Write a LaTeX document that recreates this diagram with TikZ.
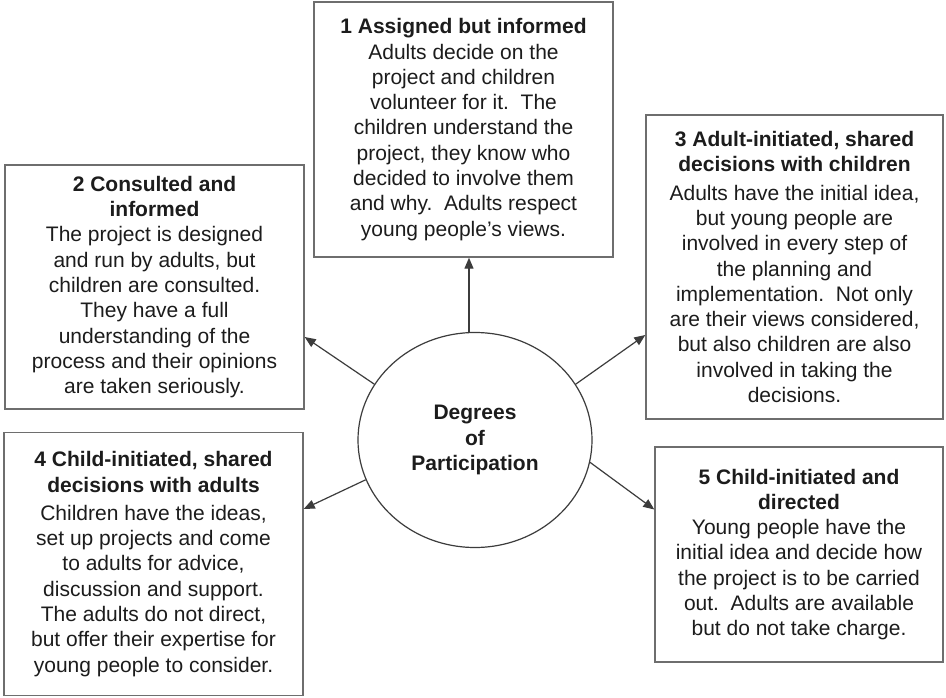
\documentclass[tikz,border=0pt]{standalone}
\usepackage{fontspec}
\setmainfont{Liberation Sans}
\usepackage{xcolor}
\usepackage{tikz}
\usetikzlibrary{positioning, shapes.geometric, arrows.meta}

\definecolor{ink}{HTML}{1C1C1C}
\definecolor{edge}{HTML}{6E6E6E}
\definecolor{wire}{HTML}{3C3C3C}

\begin{document}
\begin{tikzpicture}[x=1pt,y=-1pt]
	\tikzstyle{box}=[draw=edge,line width=1.4pt,fill=white,align=center,inner sep=0pt,text=ink,font=\fontsize{21}{25.3}\selectfont]
	\tikzstyle{arr}=[draw=wire,line width=1.2pt,-{Triangle[length=11pt,width=9pt]}]
	\useasboundingbox[fill=white] (0,0) rectangle (946,698);
	\node[box,minimum width=299pt,minimum height=255pt](b1) at (463.5,129.5) {\textbf{1 Assigned but informed}\\Adults decide on the\\project and children\\volunteer for it.\ \ The\\children understand the\\project, they know who\\decided to involve them\\and why.\ \ Adults respect\\young people's views.};
	\node[box,minimum width=299pt,minimum height=244pt](b2) at (154.5,287) {\textbf{2 Consulted and}\\\textbf{informed}\\The project is designed\\and run by adults, but\\children are consulted.\\They have a full\\understanding of the\\process and their opinions\\are taken seriously.};
	\node[box,minimum width=297pt,minimum height=304pt](b3) at (794.5,267) {\textbf{3 Adult-initiated, shared}\\\textbf{decisions with children}\\[3pt]Adults have the initial idea,\\but young people are\\involved in every step of\\the planning and\\implementation.\ \ Not only\\are their views considered,\\but also children are also\\involved in taking the\\decisions.};
	\node[box,minimum width=299pt,minimum height=263pt](b4) at (153.5,564) {\textbf{4 Child-initiated, shared}\\\textbf{decisions with adults}\\[3pt]Children have the ideas,\\set up projects and come\\to adults for advice,\\discussion and support.\\The adults do not direct,\\but offer their expertise for\\young people to consider.};
	\node[box,minimum width=288pt,minimum height=215pt](b5) at (799,554.5) {\textbf{5 Child-initiated and}\\\textbf{directed}\\Young people have the\\initial idea and decide how\\the project is to be carried\\out.\ \ Adults are available\\but do not take charge.};
	\node[ellipse,draw=wire,line width=1.2pt,minimum width=234pt,minimum height=215pt,align=center,text=ink,font=\fontsize{21}{25.3}\selectfont\bfseries](deg) at (475,440) {Degrees\\of\\Participation};
	\draw[arr]([xshift=-6pt]deg.north) -- ([xshift=-6pt]deg.north |- b1.south);
	\draw[arr](deg.151) -- ([yshift=-50pt]b2.east);
	\draw[arr](deg.29) -- ([yshift=-68pt]b3.west);
	\draw[arr](deg.200) -- ([yshift=55pt]b4.east);
	\draw[arr](deg.-11) -- ([yshift=45pt]b5.west);
\end{tikzpicture}
\end{document}
